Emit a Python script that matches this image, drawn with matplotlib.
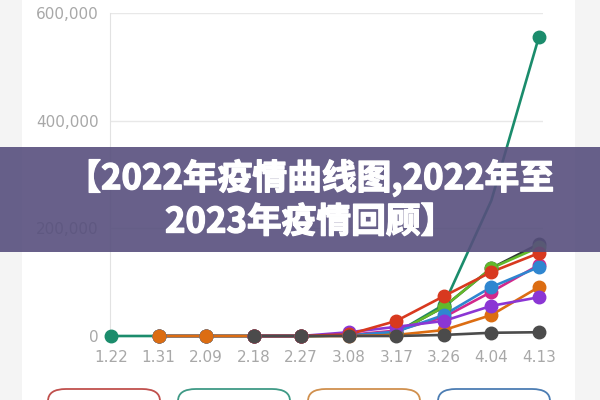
import numpy as np
import matplotlib
matplotlib.use("Agg")
import matplotlib.pyplot as plt
import matplotlib.patheffects as pe
from matplotlib.patches import Rectangle, FancyBboxPatch
from matplotlib.ticker import FuncFormatter

nan = np.nan

#dates on x axis
dates = ["1.22", "1.31", "2.09", "2.18", "2.27", "3.08", "3.17", "3.26", "4.04", "4.13"]

#cumulative cases per series (nan = series not started yet)
teal = [0, 0, 0, 0, 0, 1000, 6000, 58000, 252000, 556000]
dark_top = [nan, 0, 0, 0, 0, 1000, 6000, 54000, 126000, 171000]
green = [nan, 0, 0, 0, 0, 1000, 6000, 54000, 126000, 165000]
magenta = [nan, 0, 0, 0, 0, 2000, 10000, 35000, 82000, 132000]
blue = [nan, 0, 0, 0, 0, 1000, 8000, 39000, 91000, 128000]
orange = [nan, 0, 0, 0, 0, 0, 2000, 11000, 39000, 91000]
purple = [nan, nan, nan, 0, 0, 7000, 17000, 28000, 56000, 72000]
red = [nan, nan, nan, 0, 0, 3000, 28000, 74000, 119000, 154000]
gray = [nan, nan, nan, 0, 0, 0, 0, 2000, 6000, 7000]

series = [teal, dark_top, green, magenta, blue, orange, purple, red, gray]
colors = ["#1b8c6c", "#2e3a35", "#62b92c", "#d2288c", "#2f86d0", "#dc6d12", "#8b36d4", "#d8391f", "#4b4b4b"]

title1 = "【2022年疫情曲线图,2022年至"
title2 = "2023年疫情回顾】"
button_colors = ["#c0504d", "#3f9a86", "#d0904e", "#4c7db3"]

fig = plt.figure(figsize=(6, 4), dpi=100, facecolor="#f4f4f4")

#white card behind the chart
fig.patches.append(Rectangle((22 / 600, 0), 553 / 600, 1, transform=fig.transFigure,
                             facecolor="white", edgecolor="none", zorder=-5))

ax = fig.add_axes([110 / 600, 64 / 400, 433 / 600, 323 / 400])
ax.set_facecolor("none")
ax.set_zorder(2)

x = np.arange(len(dates))
for vals, c in zip(series, colors):
    ax.plot(x, vals, color=c, lw=1.9, zorder=2, clip_on=False, solid_capstyle="round")
for vals, c in zip(series, colors):
    #teal point at 4.04 sits under the banner, no marker shows there
    every = [0, 1, 2, 3, 4, 5, 6, 7, 9] if vals is teal else None
    ax.plot(x, vals, ls="none", marker="o", ms=9, color=c, zorder=3, clip_on=False,
            markevery=every)

ax.set_xlim(-0.02, 9.085)
ax.set_ylim(0, 600000)
ax.set_yticks([0, 200000, 400000, 600000])
ax.yaxis.set_major_formatter(FuncFormatter(lambda v, p: "{:,.0f}".format(v)))
ax.set_xticks(x)
ax.set_xticklabels(dates)
ax.tick_params(length=0, labelsize=11, labelcolor="#a8a8a8")
ax.tick_params(axis="y", pad=8)
ax.tick_params(axis="x", pad=10)
ax.grid(axis="y", color="#e8e8e8", lw=1)
ax.set_axisbelow(True)
for s in ["top", "right", "bottom"]:
    ax.spines[s].set_visible(False)
ax.spines["left"].set_color("#e2e2e2")

#legend buttons cut off at the bottom
for i, c in enumerate(button_colors):
    left = 48 + i * 130
    fig.patches.append(FancyBboxPatch((left / 600, -20 / 400), 112 / 600, 31 / 400,
                                      boxstyle="round,pad=0,rounding_size=0.03",
                                      transform=fig.transFigure, facecolor="white",
                                      edgecolor=c, lw=1.3, zorder=1))

#purple banner with title, drawn on top of everything
fig.patches.append(Rectangle((0, 148 / 400), 1, 105 / 400, transform=fig.transFigure,
                             facecolor="#574f7d", alpha=0.9, edgecolor="none", zorder=10))
bold = [pe.withStroke(linewidth=1.0, foreground="white")]
fig.text(0.517, 1 - 178 / 400, title1, ha="center", va="center", color="white",
         fontsize=25, fontweight="bold", family=["Noto Sans CJK SC", "DejaVu Sans"],
         zorder=11, path_effects=bold)
fig.text(0.517, 1 - 222 / 400, title2, ha="center", va="center", color="white",
         fontsize=25, fontweight="bold", family=["Noto Sans CJK SC", "DejaVu Sans"],
         zorder=11, path_effects=bold)

fig.savefig("out.png", dpi=100, facecolor=fig.get_facecolor())
